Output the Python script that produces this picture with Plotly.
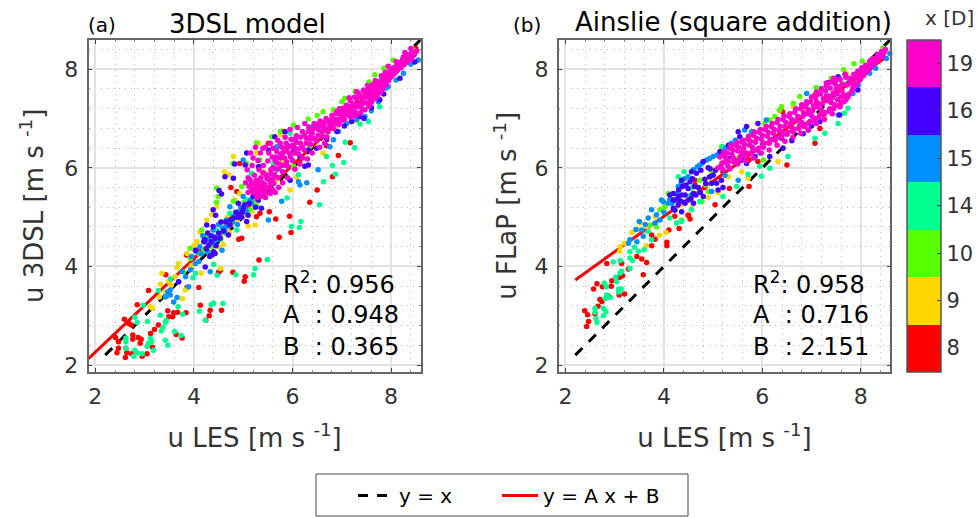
import plotly.graph_objects as go

LABELS = ['8', '9', '10', '14', '15', '16', '19']
COLORS = ['#FF0000', '#FFD700', '#55FF00', '#00FF90', '#0090FF', '#4400FF', '#FF00CC']
FONT = 'DejaVu Sans'
TICKS = [2, 4, 6, 8]
FIT_A = [0.948, 0.716]
FIT_B = [0.365, 2.151]
R2 = ['0.956', '0.958']

A_RED = [(3.43,3.83),(3.08,3.51),(2.85,3.22),(2.59,2.93),(2.68,2.84),(2.73,2.81),(2.41,2.56),(2.47,2.47),(2.47,2.34),(2.44,2.25),(2.76,2.61),(2.76,2.52),(2.87,2.56),(2.93,2.52),(2.91,2.44),(2.62,2.34),(2.64,2.25),(2.61,2.15),(2.74,2.23),(2.95,2.18),(3.05,2.23),(3.16,2.36),(3.12,2.64),(3.2,2.72),(3.28,2.81),(3.47,3.1),(3.49,2.98),(3.59,3.06),(3.67,3.07),(3.84,3.06),(3.57,2.98),(3.64,2.62),(3.76,2.55),(4.1,3.57),(3.86,3.57),(4.13,3.21),(4.56,3.11),(4.33,3.11),(4.31,3.0),(4.24,2.91),(4.54,3.92),(4.5,3.88),(5.32,4.13),(5.04,3.79),(5.02,3.7),(4.79,3.88),(7.17,6.51),(6.93,6.25),(6.81,5.82),(6.5,5.55),(6.35,5.3),(5.94,5.02),(5.66,4.96),(5.73,4.59),(5.53,5.11),(5.97,4.69),(5.34,5.08),(4.75,5.6),(4.93,6.09),(5.51,6.5),(5.37,5.59),(4.87,5.52),(4.97,4.57),(4.91,4.55),(5.27,5.01),(4.09,4.34),(3.85,4.23),(3.99,4.17),(6.69,6.45),(6.15,6.16),(5.81,6.74),(5.88,6.4),(8.5,8.42),(7.3,7.3)]
A_GOLD = [(3.32,3.64),(3.12,3.18),(3.16,3.15),(3.42,3.48),(3.54,3.62),(3.69,4.06),(3.66,3.98),(3.35,3.86),(3.49,3.69),(3.77,3.35),(3.86,4.26),(4.06,4.5),(4.15,3.86),(4.5,4.4),(4.54,3.96),(3.62,3.79),(3.3,3.38),(3.83,3.52),(6.62,6.3),(6.69,6.23),(6.08,5.81),(5.95,5.55),(5.68,5.76),(5.42,5.92),(5.31,6.5),(4.8,6.23),(4.62,5.92),(4.71,5.86),(4.93,5.48),(5.27,5.28),(5.1,4.82),(5.24,4.84),(4.87,4.94),(4.36,5.05),(4.26,4.94),(4.06,4.5),(4.46,5.21),(4.83,5.35),(5.75,6.67),(5.81,6.16),(5.27,6.3),(4.2,4.55),(4.0,4.42),(4.55,4.62),(4.72,4.7),(6.9,6.85),(7.3,6.95),(4.12,4.7),(4.32,4.3),(4.6,4.44),(4.68,5.0),(5.0,5.02),(3.95,4.02),(5.18,5.12)]
A_GREEN = [(8.45,8.39),(8.04,8.19),(7.67,7.89),(7.27,7.55),(7.06,7.41),(6.83,7.18),(6.62,7.14),(6.32,6.99),(6.02,6.87),(5.75,6.74),(5.58,6.63),(5.27,6.51),(5.07,6.09),(4.79,6.09),(4.97,5.62),(4.46,5.59),(4.46,5.3),(4.8,5.32),(5.14,5.15),(4.49,5.42),(4.16,4.74),(3.92,4.37),(4.66,4.67),(4.87,5.08),(5.2,5.35),(6.02,6.03),(5.61,5.82),(5.34,6.16),(6.35,6.43),(6.69,6.7),(7.37,7.24),(8.32,8.29),(3.93,4.16),(4.1,4.26),(4.2,4.33),(3.79,3.89),(4.35,4.4),(4.55,4.55),(4.95,5.0),(5.0,5.1),(7.55,7.74),(7.85,8.02),(4.6,4.9),(4.75,4.85),(5.02,5.3),(4.25,4.6),(7.0,7.34),(6.5,7.06),(5.22,5.25)]
A_SPRING = [(2.8,2.97),(2.85,2.86),(2.62,2.55),(2.62,2.47),(2.62,2.34),(2.8,2.3),(2.85,2.25),(2.78,2.18),(3.05,2.38),(3.08,2.44),(3.12,2.54),(3.14,2.47),(3.06,2.88),(3.32,3.01),(3.44,2.91),(3.42,2.86),(3.37,2.76),(3.34,2.69),(3.61,2.68),(3.74,2.6),(3.42,2.5),(3.47,2.4),(3.68,3.18),(3.77,3.03),(3.45,3.4),(3.28,3.51),(2.97,3.21),(3.52,3.75),(4.03,3.86),(3.98,3.77),(4.4,3.26),(4.59,3.25),(4.35,3.22),(4.11,3.09),(4.23,2.91),(2.95,2.23),(3.18,2.3),(5.49,4.14),(5.24,3.96),(5.21,3.83),(4.85,3.83),(4.47,3.82),(4.4,4.04),(7.26,6.41),(7.04,6.11),(7.07,6.52),(6.87,5.87),(6.81,6.05),(6.63,5.72),(6.55,5.25),(5.89,5.39),(6.17,4.91),(6.14,4.79),(5.98,4.81),(7.54,6.94),(7.37,6.89),(7.77,7.24),(6.69,6.23),(6.12,5.86),(5.61,6.09),(5.17,5.89),(5.95,6.7),(5.07,5.35),(5.27,5.21),(4.73,5.08),(4.46,4.74),(4.87,4.74)]
A_DODGER = [(3.47,3.48),(3.52,3.52),(3.42,3.38),(3.59,3.28),(3.66,3.37),(3.76,3.89),(3.83,3.79),(3.89,3.59),(3.93,3.93),(4.03,4.06),(4.33,3.89),(4.23,4.5),(4.4,4.47),(4.57,4.33),(3.69,3.69),(3.52,3.42),(8.62,8.29),(8.55,8.19),(8.25,7.92),(7.94,7.65),(7.74,7.34),(7.47,7.04),(7.1,6.9),(6.93,6.74),(6.83,6.57),(6.76,6.43),(6.52,5.96),(6.29,5.7),(6.15,5.65),(5.51,4.94),(5.78,5.32),(5.17,5.28),(4.73,5.21),(5.0,5.42),(4.66,4.94),(4.8,5.01),(4.39,4.74),(4.46,4.54),(4.12,4.4),(6.42,6.84),(6.02,6.57),(5.68,6.43),(5.34,6.03),(5.0,6.16),(5.68,5.96),(6.12,5.72),(4.52,4.62),(4.58,4.78),(4.65,4.8),(4.85,5.0),(4.95,5.2),(4.3,4.55),(4.18,4.62),(4.92,5.12),(7.3,6.98),(8.4,8.1),(3.95,4.2),(4.1,4.1),(4.15,4.25),(4.05,4.3),(4.28,4.3),(4.42,4.6),(4.5,4.85),(4.62,4.7),(4.78,4.9),(4.88,4.85),(5.06,5.12),(7.9,7.62),(8.1,7.78),(7.6,7.16),(5.05,5.15),(5.15,5.35)]
A_INDIGO = [(4.63,5.82),(4.83,6.08),(5.07,6.3),(5.04,6.06),(4.51,5.54),(4.56,5.47),(4.44,5.04),(4.39,5.15),(4.26,4.84),(4.39,4.81),(4.8,5.79),(4.9,5.28),(4.8,4.98),(4.7,4.64),(4.53,4.57),(4.43,4.57),(4.22,4.54),(5.1,5.04),(5.0,5.18),(5.37,5.18),(5.2,5.42),(5.51,6.36),(5.31,6.02),(5.64,6.63),(6.32,6.06),(5.95,5.75),(5.85,6.06),(6.02,6.33),(6.32,6.36),(5.85,6.73),(4.73,4.84),(5.07,4.91),(8.18,7.82),(7.77,7.38),(7.37,7.04),(7.2,6.94),(6.9,6.74),(6.69,6.57),(6.49,6.4),(6.25,6.03),(6.15,6.23),(6.02,6.43),(4.3,4.43),(4.37,4.23),(4.23,3.99),(4.2,4.5),(4.43,4.26),(4.03,4.33),(3.69,3.69),(4.85,5.1),(4.92,5.05),(4.6,4.72),(4.35,4.5),(4.28,4.68),(7.6,7.22),(7.05,6.85),(6.6,6.75),(8.48,8.15),(4.97,5.0),(5.03,5.25),(4.32,4.2),(4.4,4.3),(4.25,4.36),(4.5,4.68),(4.55,4.9),(4.75,4.95),(4.9,5.0),(4.35,4.62),(4.45,4.42),(4.65,4.9),(7.85,7.5),(7.45,7.0),(7.9,7.75),(5.12,5.28),(5.25,5.2),(4.98,5.1),(5.3,5.35)]
A_MAGENTA = [(8.52,8.37),(8.47,8.3),(8.43,8.36),(8.41,8.22),(8.36,8.28),(8.33,8.15),(8.3,8.24),(8.26,8.09),(8.23,8.19),(8.2,8.03),(8.16,8.13),(8.13,7.98),(8.11,8.07),(8.07,7.92),(8.04,8.02),(8.0,7.85),(7.98,7.97),(7.95,7.77),(7.92,7.91),(7.9,7.68),(7.86,7.85),(7.83,7.6),(7.81,7.78),(7.78,7.53),(7.75,7.72),(7.72,7.46),(7.7,7.62),(7.66,7.4),(7.64,7.7),(7.6,7.33),(7.58,7.54),(7.55,7.25),(7.52,7.67),(7.49,7.44),(7.47,7.18),(7.44,7.58),(7.4,7.34),(7.38,7.12),(7.35,7.51),(7.31,7.24),(7.29,7.06),(7.26,7.44),(7.22,7.18),(7.19,7.02),(7.17,7.36),(7.12,7.12),(7.09,7.27),(7.05,6.98),(7.02,7.21),(6.98,7.06),(6.94,6.88),(6.9,7.14),(6.87,6.98),(6.83,6.8),(6.8,7.06),(6.75,6.9),(6.72,6.73),(6.68,7.0),(6.64,6.84),(6.6,6.64),(6.56,6.95),(6.52,6.78),(6.48,6.55),(6.44,6.9),(6.4,6.7),(6.36,6.48),(6.33,6.83),(6.28,6.6),(6.24,6.36),(6.2,6.74),(6.16,6.5),(6.12,6.28),(6.08,6.65),(6.05,6.4),(6.0,6.15),(5.97,6.58),(5.93,6.3),(5.9,6.03),(5.87,6.5),(5.84,6.2),(5.8,5.92),(5.78,6.42),(5.74,6.08),(5.71,5.8),(5.68,6.33),(5.65,5.98),(5.62,5.68),(5.59,6.22),(5.57,5.88),(5.53,5.6),(5.5,6.14),(5.48,5.78),(5.44,5.5),(5.41,6.05),(5.39,5.7),(5.35,5.42),(5.32,5.96),(5.3,5.6),(5.26,5.48),(5.23,5.85),(5.2,5.68),(5.17,5.55),(5.14,5.76),(5.12,5.62),(5.1,5.5),(5.08,5.96),(5.2,6.2),(5.25,6.42),(5.15,6.3),(5.35,6.3),(5.45,6.42),(5.55,6.5),(5.7,6.56),(5.85,6.62),(5.95,6.78),(6.1,6.82),(6.25,6.9),(5.6,5.55),(5.72,5.6),(5.8,5.7),(5.9,5.8),(6.05,5.97),(6.15,6.08),(6.3,6.18),(6.4,6.3),(6.55,6.42),(6.65,6.5),(5.45,5.4),(5.55,5.48),(5.65,5.5),(5.4,5.55),(5.28,5.4),(5.5,5.85),(5.6,6.0),(5.75,6.2),(5.9,6.45),(6.05,6.58),(6.2,6.2),(6.35,6.62),(6.5,6.88),(6.7,6.62),(6.85,6.9),(6.95,7.2),(7.15,7.42),(7.3,7.55),(7.42,7.3),(7.54,7.48),(7.62,7.6),(7.68,7.77),(7.8,7.87),(7.88,7.94),(7.94,8.06),(8.1,8.16),(8.28,8.34),(8.4,8.42),(5.3,5.75),(5.4,5.9),(5.52,6.3),(5.65,6.15),(5.8,6.3),
    (8.48,8.34),(8.44,8.27),(8.39,8.31),(8.37,8.19),(8.31,8.19),(8.28,8.12),(8.25,8.25),(8.21,8.11),(8.18,8.07),(8.14,8.05),(8.09,7.94),(8.06,8.0),(8.03,7.89),(7.99,7.91),(7.96,7.82),(7.93,7.85),(7.9,7.79),(7.87,7.72),(7.84,7.78),(7.8,7.64),(7.77,7.74),(7.74,7.58),(7.71,7.68),(7.68,7.51),(7.65,7.62),(7.63,7.45),(7.6,7.66),(7.57,7.4),(7.54,7.6),(7.5,7.32),(7.47,7.52),(7.44,7.42),(7.41,7.2),(7.37,7.46),(7.34,7.28),(7.3,7.4),(7.27,7.14),(7.24,7.3),(7.2,7.1),(7.17,7.25),(7.14,7.06),(7.1,7.2),(7.07,7.08),(7.03,7.14),(7.0,6.96),(6.96,7.12),(6.92,6.98),(6.88,7.1),(6.84,6.92),(6.8,6.98),(6.76,6.84),(6.72,6.96),(6.68,6.78),(6.64,6.92),(6.6,6.74),(6.56,6.86),(6.52,6.66),(6.48,6.82),(6.44,6.6),(6.4,6.78),(6.36,6.58),(6.32,6.74),(6.28,6.5),(6.24,6.66),(6.2,6.42),(6.16,6.62),(6.12,6.38),(6.08,6.52),(6.04,6.3),(6.0,6.46),(5.96,6.22),(5.92,6.42),(5.88,6.12),(5.84,6.34),(5.8,6.05),(5.76,6.28),(5.72,5.98),(5.68,6.1),(5.64,5.86),(5.6,5.78),(5.56,5.68),(5.52,5.76),(5.48,5.58),(5.44,5.66),(5.4,5.48),(5.36,5.62),(5.32,5.5),(5.28,5.68),(5.24,5.58),(5.2,5.5),(5.16,5.66),(5.46,5.86),(5.36,5.8),(5.26,5.74),(5.56,5.96),(5.66,6.22),(5.18,6.05),(5.3,6.15),(5.4,6.4),(5.6,6.4),(5.75,6.5),(5.05,5.7),(5.1,5.8)]

B_RED = [(2.39,3.1),(2.45,3.02),(2.47,2.88),(2.43,2.78),(2.66,3.19),(2.6,3.04),(2.7,3.33),(2.74,3.29),(2.87,3.4),(3.09,3.42),(3.2,3.44),(2.57,3.54),(2.64,3.65),(2.75,3.59),(2.93,3.6),(2.94,3.71),(3.16,3.81),(3.1,3.78),(2.84,4.06),(3.14,4.06),(3.28,3.95),(3.58,3.83),(3.55,4.15),(3.65,4.08),(3.45,4.2),(3.75,4.42),(3.82,4.55),(4.06,4.49),(4.06,4.42),(4.1,4.74),(4.31,4.77),(4.53,4.96),(4.5,5.04),(4.22,5.02),(3.75,4.64),(5.04,5.25),(5.73,6.16),(5.73,5.62),(5.33,5.58),(4.63,5.75),(4.63,5.65),(4.83,5.6),(4.49,5.04),(6.5,6.06),(5.91,6.13),(5.2,5.92),(5.81,6.73),(7.07,6.5),(7.17,6.8),(6.86,7.24),(6.41,7.14),(7.07,7.48)]
B_GOLD = [(3.11,4.4),(3.1,4.31),(3.2,4.47),(3.64,4.42),(3.91,4.63),(4.04,4.69),(3.35,4.69),(3.52,4.88),(3.65,4.81),(3.82,5.01),(4.26,4.88),(4.36,5.25),(3.96,5.18),(4.6,5.28),(4.73,5.32),(5.1,5.5),(5.58,5.92),(6.32,6.13),(5.71,5.79),(5.31,5.82),(4.93,5.79),(4.56,5.18),(4.36,5.6),(6.35,7.17),(6.63,7.24),(7.71,7.92),(7.27,7.0),(3.48,4.75),(4.9,5.4)]
B_GREEN = [(3.92,5.15),(4.02,5.21),(3.72,4.84),(4.09,5.48),(4.36,4.94),(4.5,5.42),(4.63,5.48),(4.23,5.15),(5.17,6.43),(6.05,6.9),(6.15,6.97),(4.73,5.75),(4.19,5.35),(5.37,6.46),(5.64,6.16),(6.02,6.16),(4.97,5.92),(4.77,5.31),(6.35,7.17),(6.25,7.04),(8.45,8.43),(8.03,8.17),(7.86,8.11),(7.65,7.99),(7.4,7.82),(7.09,7.63),(6.76,7.45),(6.63,7.31),(6.39,7.24),(4.85,5.65),(5.5,6.2),(6.7,6.8),(3.85,4.8),(4.55,5.58),(4.9,5.52)]
B_SPRING = [(2.6,3.15),(2.6,3.07),(2.77,3.15),(2.82,3.08),(2.62,2.94),(2.64,2.86),(2.77,3.0),(2.81,3.35),(2.84,3.42),(2.91,3.37),(2.79,3.66),(2.83,3.59),(3.08,3.54),(3.13,3.54),(3.08,3.48),(3.02,3.78),(3.04,3.69),(3.11,3.86),(3.14,3.9),(2.97,4.09),(3.11,4.12),(3.31,3.96),(3.31,4.17),(3.36,4.12),(3.31,4.3),(3.4,4.39),(3.48,4.31),(3.6,4.34),(3.75,4.54),(4.36,4.91),(4.26,4.88),(4.12,4.98),(3.68,4.71),(4.56,5.15),(4.29,5.82),(4.41,5.92),(5.2,6.43),(5.95,6.03),(5.98,5.83),(6.15,5.99),(5.71,5.87),(5.2,5.42),(5.48,5.62),(6.52,6.23),(4.73,5.31),(4.6,5.62),(7.74,7.21),(7.67,7.11),(7.54,6.9),(7.27,6.7),(7.07,6.6)]
B_DODGER = [(3.5,4.91),(3.43,4.75),(3.31,4.54),(3.28,4.47),(3.45,4.5),(3.55,4.74),(3.58,4.61),(3.75,5.15),(3.85,5.05),(3.92,4.94),(3.68,4.98),(3.95,5.35),(4.16,5.28),(4.26,5.48),(4.56,5.45),(3.82,4.88),(3.99,5.31),(4.09,5.28),(4.29,5.62),(4.6,5.96),(4.93,6.19),(5.0,6.23),(5.37,6.5),(5.64,6.77),(5.78,6.73),(5.51,5.75),(5.24,5.85),(4.97,5.52),(4.73,6.06),(4.49,5.82),(6.08,6.97),(4.87,6.16),(5.95,6.3),(8.59,8.32),(8.52,8.22),(8.18,7.92),(7.84,7.51),(7.2,7.61),(6.9,7.51),(7.54,7.07),(7.03,6.97),(3.62,4.85),(4.0,5.1),(5.15,6.32),(4.12,5.36),(4.35,5.7),(4.42,5.78),(4.68,6.02),(4.78,6.1),(5.08,6.26),(5.25,6.4),(5.45,6.56),(7.95,7.68),(8.3,8.02)]
B_INDIGO = [(4.19,5.48),(4.43,5.28),(4.29,5.25),(4.19,5.18),(4.6,5.28),(4.23,5.35),(4.36,5.45),(4.12,5.45),(4.22,5.14),(4.36,5.11),(4.29,5.42),(4.36,5.75),(4.49,5.58),(4.53,5.72),(4.43,5.45),(4.56,5.92),(4.66,5.89),(4.83,5.77),(4.8,6.13),(4.97,5.69),(5.07,5.69),(5.17,5.75),(5.14,6.33),(5.31,6.46),(5.54,6.63),(5.68,6.84),(5.91,6.9),(5.51,6.73),(5.58,6.16),(5.68,6.09),(5.85,6.23),(6.15,6.23),(6.42,6.4),(4.6,5.48),(4.19,5.35),(4.8,5.42),(4.93,5.82),(5.31,6.19),(7.34,7.73),(7.54,7.85),(7.57,7.07),(7.17,6.94),(6.93,6.77),(6.83,6.69),(6.39,6.6),(7.94,7.58),(7.37,7.45),(8.18,8.02),(4.7,5.6),(4.9,6.0),(5.0,5.85),(4.5,5.35),(4.65,5.45),(4.45,5.65),(4.75,5.95),(5.1,5.55),(4.4,5.3),(6.6,6.55),(7.0,6.85),(4.3,5.55),(4.38,5.62),(4.58,5.78),(4.62,5.62),(4.74,5.5),(4.85,5.68),(4.94,5.98),(5.05,5.95),(5.2,5.6),(4.33,5.33),(4.55,5.38)]
B_MAGENTA = [(8.5,8.4),(8.46,8.32),(8.42,8.36),(8.38,8.25),(8.34,8.3),(8.3,8.14),(8.26,8.22),(8.22,8.05),(8.18,8.16),(8.14,7.97),(8.1,8.08),(8.06,7.88),(8.02,8.03),(7.98,7.78),(7.94,7.96),(7.9,7.68),(7.86,7.9),(7.82,7.56),(7.78,7.82),(7.74,7.44),(7.72,7.68),(7.68,7.9),(7.66,7.34),(7.62,7.56),(7.58,7.8),(7.55,7.26),(7.52,7.5),(7.48,7.7),(7.45,7.2),(7.42,7.42),(7.38,7.62),(7.35,7.15),(7.32,7.36),(7.28,7.56),(7.25,7.08),(7.22,7.3),(7.18,7.5),(7.15,7.02),(7.12,7.24),(7.08,7.42),(7.05,6.96),(7.02,7.16),(6.98,7.34),(6.95,6.9),(6.92,7.1),(6.88,7.26),(6.85,6.84),(6.82,7.04),(6.78,7.2),(6.74,6.8),(6.7,6.96),(6.66,7.13),(6.62,6.74),(6.58,6.9),(6.54,7.04),(6.5,6.68),(6.46,6.84),(6.42,6.98),(6.38,6.62),(6.34,6.76),(6.3,6.92),(6.26,6.56),(6.22,6.7),(6.18,6.84),(6.14,6.5),(6.1,6.64),(6.06,6.78),(6.02,6.42),(5.98,6.58),(5.94,6.72),(5.9,6.36),(5.86,6.52),(5.82,6.66),(5.78,6.3),(5.74,6.46),(5.7,6.58),(5.66,6.24),(5.62,6.4),(5.58,6.52),(5.54,6.18),(5.5,6.34),(5.46,6.46),(5.42,6.12),(5.38,6.28),(5.34,6.4),(5.3,6.04),(5.26,6.2),(5.22,6.32),(5.18,6.1),(5.14,6.22),(5.1,6.0),(5.34,5.98),(5.5,6.08),(5.66,6.14),(5.82,6.2),(5.98,6.3),(6.14,6.36),(6.3,6.46),(6.46,6.54),(6.62,6.62),(6.78,6.7),(6.94,6.78),(7.1,6.9),(7.26,6.98),(7.42,7.1),(7.58,7.24),(7.7,7.38),(7.84,7.7),(7.96,7.86),(8.08,7.98),(8.2,8.18),(8.34,8.18),(8.44,8.26),(7.3,7.72),(7.45,7.82),(7.1,7.48),(6.9,7.34),(5.2,5.96),(5.4,6.22),(5.6,6.32),(5.8,6.42),(6.0,6.48),(6.2,6.58),(6.4,6.72),(6.6,6.82),(6.8,6.92),(7.0,7.06),(7.2,7.18),(7.4,7.32),(7.6,7.44),(7.5,7.6),(7.3,7.46),(7.1,7.34),
    (8.48,8.36),(8.44,8.33),(8.4,8.28),(8.36,8.24),(8.32,8.22),(8.28,8.18),(8.24,8.12),(8.2,8.08),(8.16,8.06),(8.12,8.02),(8.08,7.92),(8.04,7.96),(8.0,7.82),(7.96,7.92),(7.92,7.72),(7.88,7.84),(7.84,7.62),(7.8,7.76),(7.76,7.5),(7.74,7.7),(7.7,7.84),(7.66,7.48),(7.62,7.7),(7.6,7.32),(7.56,7.64),(7.53,7.38),(7.5,7.78),(7.47,7.28),(7.44,7.52),(7.4,7.74),(7.37,7.2),(7.34,7.46),(7.3,7.66),(7.27,7.12),(7.24,7.4),(7.2,7.6),(7.17,7.08),(7.14,7.3),(7.1,7.54),(7.07,7.0),(7.04,7.26),(7.0,7.44),(6.97,6.94),(6.94,7.18),(6.9,7.3),(6.87,6.88),(6.84,7.12),(6.8,7.28),(6.76,6.86),(6.72,7.04),(6.68,7.2),(6.64,6.78),(6.6,6.98),(6.56,7.1),(6.52,6.72),(6.48,6.92),(6.44,7.06),(6.4,6.66),(6.36,6.84),(6.32,6.98),(6.28,6.6),(6.24,6.78),(6.2,6.9),(6.16,6.56),(6.12,6.72),(6.08,6.84),(6.04,6.5),(6.0,6.66),(5.96,6.78),(5.92,6.4),(5.88,6.6),(5.84,6.72),(5.8,6.34),(5.76,6.54),(5.72,6.64),(5.68,6.3),(5.64,6.48),(5.6,6.56),(5.56,6.24),(5.52,6.42),(5.48,6.52),(5.44,6.16),(5.4,6.36),(5.36,6.46),(5.32,6.14),(5.28,6.3),(5.24,6.12),(5.2,6.26),(5.16,6.04)]

A_SERIES = [A_RED, A_GOLD, A_GREEN, A_SPRING, A_DODGER, A_INDIGO, A_MAGENTA]
B_SERIES = [B_RED, B_GOLD, B_GREEN, B_SPRING, B_DODGER, B_INDIGO, B_MAGENTA]

W, H = 980, 518
RANGE = [1.862, 8.6]
YRANGE = [1.864, 8.594]
X_START = [1.862, 2.2]
ID_START = 2.2
ID_END = 8.6
FIT_END = 8.5

fig = go.Figure()

for p, series in enumerate([A_SERIES, B_SERIES]):
    xa = 'x' if p == 0 else 'x2'
    ya = 'y' if p == 0 else 'y2'
    xs = [ID_START, ID_END]
    fig.add_trace(go.Scatter(x=xs, y=xs, mode='lines', xaxis=xa, yaxis=ya,
                             line=dict(color='black', width=3, dash='10px,9px'),
                             name='y = x', showlegend=p == 0, legendwidth=93))
    fx = [X_START[p], FIT_END]
    fig.add_trace(go.Scatter(x=fx, y=[FIT_A[p] * v + FIT_B[p] for v in fx], mode='lines',
                             xaxis=xa, yaxis=ya, line=dict(color='#FF0000', width=3),
                             name='y = A x + B', showlegend=p == 0, legendwidth=130))
    for i, pts in enumerate(series):
        fig.add_trace(go.Scatter(
            x=[q[0] for q in pts], y=[q[1] for q in pts], mode='markers', xaxis=xa, yaxis=ya,
            name=LABELS[i], showlegend=False, cliponaxis=False,
            marker=dict(size=5.5, line=dict(width=0), color=[i] * len(pts), coloraxis='coloraxis')))

cs = []
for i, c in enumerate(COLORS):
    cs += [[i / 7, c], [(i + 1) / 7, c]]

def axis(dom, rng, title, standoff, anchor):
    return dict(domain=dom, range=rng, anchor=anchor, tickmode='array', tickvals=TICKS,
                ticks='inside', ticklen=4, tickcolor='#444', mirror='ticks',
                showline=True, linecolor='#666', linewidth=1.5,
                showgrid=True, gridcolor='#E2E2E2', gridwidth=1.5, zeroline=False,
                ticklabelstandoff=4,
                minor=dict(tick0=2, dtick=0.4, showgrid=True, gridcolor='#BDBDBD',
                           griddash='1px,5px', gridwidth=1, ticks='inside', ticklen=2, tickcolor='#888'),
                tickfont=dict(family=FONT, size=22, color='#333'),
                title=dict(text=title, font=dict(family=FONT, size=26, color='#333'), standoff=standoff))

ytop, ybot = 1 - 40 / H, 1 - 371.7 / H
lab = 'u LES [m s <sup>-1</sup>]'
layout = dict(
    width=W, height=H, paper_bgcolor='white', plot_bgcolor='white',
    margin=dict(l=0, r=0, t=0, b=0, autoexpand=False),
    font=dict(family=FONT),
    xaxis=axis([88.5 / W, 420.7 / W], RANGE, lab, 21, 'y'),
    yaxis=axis([ybot, ytop], YRANGE, 'u 3DSL [m s <sup>-1</sup>]', 13, 'x'),
    xaxis2=axis([558.7 / W, 890.3 / W], RANGE, lab, 21, 'y2'),
    yaxis2=axis([ybot, ytop], YRANGE, 'u FLaP [m s <sup>-1</sup>]', 10, 'x2'),
    coloraxis=dict(cmin=-0.5, cmax=6.5, colorscale=cs, colorbar=dict(
        x=906.7 / W, xanchor='left', xref='paper', y=(ybot + ytop) / 2, yanchor='middle', yref='paper',
        len=(ytop - ybot), lenmode='fraction', thickness=34, thicknessmode='pixels',
        tickmode='array', tickvals=list(range(7)), ticktext=LABELS, ticks='inside', ticklen=4,
        tickcolor='#444', outlinecolor='#555', outlinewidth=1.5, xpad=0, ypad=0,
        tickfont=dict(family=FONT, size=21, color='#333'))),
    legend=dict(orientation='h', x=353 / W, xanchor='left', y=1 - 476 / H, yanchor='top',
                borderwidth=0, bgcolor='rgba(255,255,255,0)',
                font=dict(family=FONT, size=20, color='black'), itemwidth=36),
    shapes=[dict(type='rect', xref='paper', yref='paper', x0=316 / W, x1=688 / W,
                 y0=1 - 516 / H, y1=1 - 474 / H, line=dict(color='#444', width=1))],
)

notes = []
def text(x, y, s, size, anchor='left', color='black'):
    notes.append(dict(xref='paper', yref='paper', x=x / W, y=1 - y / H, text=s, showarrow=False,
                      xanchor=anchor, yanchor='middle', font=dict(family=FONT, size=size, color=color)))

text(86, 25, '(a)', 20)
text(511, 25, '(b)', 20)
text(248, 24, '3DSL model', 26, 'center')
text(733, 22, 'Ainslie (square addition)', 26, 'center')
text(949, 18, 'x [D]', 20, 'center', '#333')
for ox, r2, a, b in [(281, R2[0], FIT_A[0], FIT_B[0]), (751, R2[1], FIT_A[1], FIT_B[1])]:
    text(ox, 283, f'R<sup>2</sup>: {r2}', 24)
    text(ox, 315, f'A  : {a:.3f}', 24)
    text(ox, 347, f'B  : {b:.3f}', 24)
layout['annotations'] = notes
fig.update_layout(**layout)
fig.write_html('out.html', config={'displayModeBar': False},
               post_script="document.body.style.margin='0';")
